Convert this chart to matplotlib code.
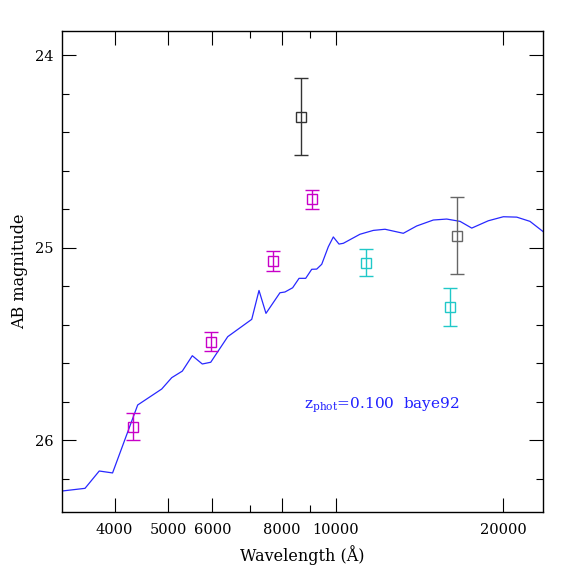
import numpy as np
import matplotlib
matplotlib.use("Agg")
import matplotlib.pyplot as plt
from matplotlib.ticker import FixedLocator, FixedFormatter, MultipleLocator

plt.rcParams["font.family"] = "DejaVu Serif"
plt.rcParams["mathtext.fontset"] = "dejavuserif"

# best-fit template spectrum (wavelength in A, AB mag)
spec_wave = [3218, 3540, 3755, 3968, 4403, 4864, 5070, 5297, 5521, 5754,
             5959, 6394, 7062, 7278, 7491, 7937, 8103, 8366, 8591, 8831,
             9054, 9243, 9437, 9698, 9901, 10137, 10320, 11057, 11685, 12266,
             13231, 13985, 14983, 15837, 16736, 17568, 18813, 20024, 21166, 22360,
             23630, 24500]
spec_mag = [26.265, 26.251, 26.161, 26.171, 25.818, 25.735, 25.676, 25.642, 25.562, 25.605,
            25.596, 25.463, 25.373, 25.223, 25.342, 25.235, 25.231, 25.209, 25.160, 25.160,
            25.113, 25.112, 25.087, 24.996, 24.945, 24.982, 24.978, 24.931, 24.911, 24.905,
            24.926, 24.888, 24.857, 24.852, 24.864, 24.899, 24.861, 24.840, 24.842, 24.864,
            24.918, 24.96]

# observed photometry
phot_wave = [4325, 5967, 7722, 9077, 8650, 11338, 16530, 16080]
phot_mag = [25.93, 25.49, 25.07, 24.75, 24.32, 25.08, 24.94, 25.31]
phot_err = [0.07, 0.05, 0.05, 0.05, 0.20, 0.07, 0.20, 0.10]
phot_color = ["#c800c8", "#c800c8", "#c800c8", "#c800c8",
              "#333333", "#20c8c8", "#666666", "#20c8c8"]

xticks_major = [4000, 5000, 6000, 8000, 10000, 20000]
xticks_minor = [7000, 9000]

fig = plt.figure(figsize=(5.74, 5.74), dpi=100)
ax = fig.add_axes([0.108, 0.108, 0.838, 0.838])

ax.plot(spec_wave, spec_mag, color="#2828ff", lw=0.9)

for w, m, e, c in zip(phot_wave, phot_mag, phot_err, phot_color):
    ax.errorbar(w, m, yerr=e, fmt="s", ms=6.5, mfc="none", mec=c, mew=1.0,
                ecolor=c, elinewidth=1.0, capsize=4.7, capthick=1.0)

ax.text(8768, 25.818, r"z$_{\rm phot}$=0.100  baye92", color="#2020ff",
        fontsize=11, va="center", ha="left")

ax.set_xscale("log")
ax.set_xlim(3218, 23600)
ax.set_ylim(26.374, 23.875)

ax.xaxis.set_major_locator(FixedLocator(xticks_major))
ax.xaxis.set_major_formatter(FixedFormatter([str(t) for t in xticks_major]))
ax.xaxis.set_minor_locator(FixedLocator(xticks_minor))
ax.xaxis.set_minor_formatter(FixedFormatter(["", ""]))
ax.yaxis.set_major_locator(MultipleLocator(1))
ax.yaxis.set_minor_locator(MultipleLocator(0.2))

ax.tick_params(which="both", direction="in", top=True, right=True,
               labelsize=10.5, width=0.8)
ax.tick_params(which="major", length=10)
ax.tick_params(which="minor", length=5)
ax.tick_params(axis="x", pad=8)
ax.tick_params(axis="y", pad=6)
for s in ax.spines.values():
    s.set_linewidth(1.0)

ax.set_xlabel("Wavelength (Å)", fontsize=11.5, labelpad=6)
ax.set_ylabel("AB magnitude", fontsize=11.5, labelpad=5)

fig.savefig("out.png", dpi=100)
